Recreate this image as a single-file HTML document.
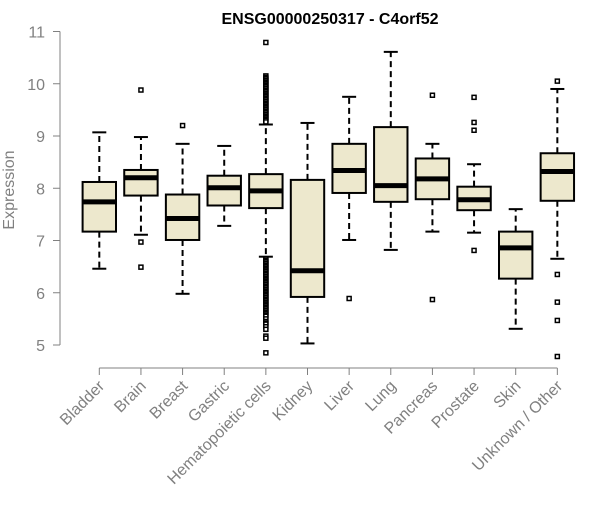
<!DOCTYPE html>
<html><head><meta charset="utf-8"><style>
body{margin:0;background:#fff}
text{font-family:"Liberation Sans",Arial,sans-serif}
</style></head><body>
<svg id="c" width="600" height="500">
<text x="330" y="24" text-anchor="middle" font-size="16" font-weight="bold">ENSG00000250317 - C4orf52</text>
<text transform="translate(14,190) rotate(-90)" text-anchor="middle" font-size="16" fill="#808080">Expression</text>
<g id="ax"></g><g id="bx"></g>
</svg>
<script>
const categories=["Bladder","Brain","Breast","Gastric","Hematopoietic cells","Kidney","Liver","Lung","Pancreas","Prostate","Skin","Unknown / Other"];
const whiskLow=[6.46,7.11,5.98,7.28,6.69,5.03,7.01,6.82,7.17,7.15,5.31,6.65];
const q1=[7.17,7.86,7.01,7.67,7.62,5.92,7.91,7.74,7.79,7.58,6.27,7.76];
const medians=[7.74,8.20,7.42,8.01,7.95,6.42,8.34,8.05,8.18,7.78,6.86,8.32];
const q3=[8.12,8.35,7.88,8.24,8.27,8.16,8.85,9.17,8.57,8.03,7.17,8.67];
const whiskHigh=[9.07,8.98,8.85,8.81,9.22,9.25,9.75,10.61,8.85,8.46,7.60,9.90];
const outliers=[[],[9.88,6.97,6.49],[9.20],[],
[10.79,10.15,10.12,10.1,10.07,10.05,10.02,10.0,9.97,9.95,9.92,9.9,9.87,9.85,9.82,9.8,9.77,9.75,9.72,9.7,9.67,9.65,9.62,9.6,9.57,9.55,9.52,9.5,9.47,9.45,9.42,9.4,9.37,9.35,9.32,9.3,9.27,
6.65,6.62,6.6,6.57,6.55,6.52,6.5,6.47,6.45,6.42,6.4,6.37,6.35,6.32,6.3,6.27,6.25,6.22,6.2,6.17,6.15,6.12,6.1,6.07,6.05,6.02,6.0,5.97,5.95,5.92,5.9,5.87,5.85,5.82,5.8,5.77,5.75,5.72,5.7,5.67,5.65,5.62,5.6,5.57,5.55,5.5,5.45,5.42,5.4,5.35,5.3,5.17,5.13,4.85],
[],[5.89],[],[9.78,5.87],[9.74,9.26,9.11,6.81],[],[10.05,6.35,5.82,5.47,4.78]];
const yTicks=[5,6,7,8,9,10,11];
const NS="http://www.w3.org/2000/svg";
const y=v=>345-(v-5)*52.25;
const x=i=>99.3+i*41.64;
function mk(p,t,a){const e=document.createElementNS(NS,t);for(const k in a)e.setAttribute(k,a[k]);p.appendChild(e);return e;}
const ax=document.getElementById('ax'),bx=document.getElementById('bx');
let l=mk(ax,'path',{d:`M60 ${y(5)}V${y(11)}`,stroke:'#808080',fill:'none'});


yTicks.forEach(t=>{
 const tk=mk(ax,'line',{x1:53,x2:60,y1:y(t),y2:y(t),stroke:'#808080'});
 
 
 const tx=mk(ax,'text',{x:45,y:y(t)+6,'text-anchor':'end','font-size':16,fill:'#808080'});
 tx.textContent=t;
 
 
});
l=mk(ax,'path',{d:`M${x(0)} 368H${x(11)}`,stroke:'#808080',fill:'none'});


categories.forEach((c,i)=>{
 const tk=mk(ax,'line',{x1:x(i),x2:x(i),y1:368,y2:375,stroke:'#808080'});
 
 
 const tx=mk(ax,'text',{transform:`translate(${x(i)+6},387) rotate(-45)`,'text-anchor':'end','font-size':16,fill:'#808080'});
 tx.textContent=c;
 
 
 const g=mk(bx,'g',{});
 
 
 const cx=x(i),hw=16.7,cw=7;
 mk(g,'line',{x1:cx,x2:cx,y1:y(q3[i]),y2:y(whiskHigh[i]),stroke:'#000','stroke-width':2,'stroke-dasharray':'6,4'});
 mk(g,'line',{x1:cx,x2:cx,y1:y(q1[i]),y2:y(whiskLow[i]),stroke:'#000','stroke-width':2,'stroke-dasharray':'6,4'});
 mk(g,'line',{x1:cx-cw,x2:cx+cw,y1:y(whiskHigh[i]),y2:y(whiskHigh[i]),stroke:'#000','stroke-width':2});
 mk(g,'line',{x1:cx-cw,x2:cx+cw,y1:y(whiskLow[i]),y2:y(whiskLow[i]),stroke:'#000','stroke-width':2});
 mk(g,'rect',{x:cx-hw,y:y(q3[i]),width:2*hw,height:y(q1[i])-y(q3[i]),fill:'#EDE8CD',stroke:'#000','stroke-width':2});
 mk(g,'line',{x1:cx-hw,x2:cx+hw,y1:y(medians[i]),y2:y(medians[i]),stroke:'#000','stroke-width':5});
 outliers[i].forEach(v=>{
  const p=mk(g,'rect',{x:cx-2,y:y(v)-2,width:4,height:4,fill:'#fff',stroke:'#000','stroke-width':1.5});
  
  
 });
});
</script>
</body></html>
